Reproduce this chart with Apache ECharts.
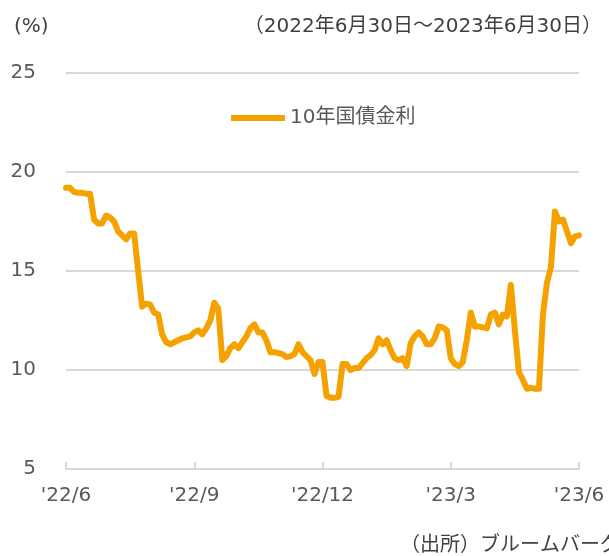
<!DOCTYPE html>
<html>
<head>
<meta charset="utf-8">
<script src="https://cdn.jsdelivr.net/npm/echarts@6/dist/echarts.min.js"></script>
<style>
html,body{margin:0;padding:0;background:#fff;}
#c{width:609px;height:556px;}
</style>
</head>
<body>
<div id="c"></div>
<script>
// Tick labels at positions 0, 32, 64, 96, 128 (Jun 2022 .. Jun 2023)
const tickLabels = ["'22/6", "'22/9", "'22/12", "'23/3", "'23/6"];
const seriesName = '10年国債金利';
const yieldValues = [
  19.2, 19.2, 19.0, 18.95, 18.95, 18.9, 18.9, 17.6, 17.4, 17.4,
  17.8, 17.7, 17.5, 17.0, 16.8, 16.6, 16.9, 16.9, 15.0, 13.2,
  13.35, 13.3, 12.9, 12.8, 11.8, 11.4, 11.3, 11.4, 11.5, 11.6,
  11.65, 11.7, 11.9, 12.0, 11.8, 12.1, 12.5, 13.4, 13.1, 10.5,
  10.7, 11.1, 11.3, 11.1, 11.4, 11.7, 12.1, 12.3, 11.9, 11.9,
  11.5, 10.9, 10.9, 10.85, 10.8, 10.65, 10.7, 10.8, 11.3, 10.9,
  10.7, 10.5, 9.8, 10.4, 10.4, 8.7, 8.6, 8.6, 8.65, 10.3,
  10.3, 10.0, 10.1, 10.1, 10.35, 10.6, 10.75, 11.0, 11.6, 11.3,
  11.5, 11.0, 10.6, 10.5, 10.6, 10.2, 11.35, 11.7, 11.9, 11.7,
  11.3, 11.3, 11.6, 12.2, 12.15, 12.0, 10.6, 10.3, 10.2, 10.4,
  11.5, 12.9, 12.2, 12.2, 12.15, 12.1, 12.8, 12.9, 12.3, 12.8,
  12.7, 14.3, 12.0, 9.9, 9.5, 9.05, 9.1, 9.05, 9.05, 12.8,
  14.4, 15.2, 18.0, 17.5, 17.6, 17.0, 16.4, 16.75, 16.8
];
const tickStep = 32;

const data = yieldValues.map((v, i) => [i, v]);
const font = '"DejaVu Sans", "Noto Sans CJK JP", sans-serif';
const textColor = '#595959';
const lineColor = '#F5A200';

const chart = echarts.init(document.getElementById('c'), null, {renderer: 'canvas'});
chart.setOption({
  animation: false,
  backgroundColor: '#fff',
  textStyle: {fontFamily: font},
  title: [
    {text: '(%)', left: 9, top: 12, textStyle: {fontSize: 20, fontWeight: 'normal', color: '#404040', fontFamily: font}},
    {text: '（2022年6月30日～2023年6月30日）', right: 2, top: 12, textStyle: {fontSize: 20, fontWeight: 'normal', color: '#404040', fontFamily: font}},
    {text: '（出所）ブルームバーグ', left: 395, top: 531, textStyle: {fontSize: 20, fontWeight: 'normal', color: '#404040', fontFamily: font}}
  ],
  legend: {
    left: 226, top: 103,
    icon: 'rect',
    itemWidth: 54, itemHeight: 6,
    itemGap: 10,
    textStyle: {fontSize: 20, color: textColor, fontFamily: font},
    data: [seriesName]
  },
  grid: {left: 66, right: 30, top: 73, bottom: 87, containLabel: false},
  xAxis: {
    type: 'value',
    min: 0, max: 128, interval: tickStep,
    axisLine: {show: true, lineStyle: {color: '#d9d9d9', width: 2}},
    axisTick: {show: true, inside: true, length: 7, lineStyle: {color: '#d9d9d9', width: 2}},
    splitLine: {show: false},
    axisLabel: {
      margin: 17, fontSize: 20, color: textColor, fontFamily: font,
      formatter: v => tickLabels[Math.round(v / tickStep)] || ''
    }
  },
  yAxis: {
    type: 'value',
    min: 5, max: 25, interval: 5,
    axisLine: {show: false},
    axisTick: {show: false},
    splitLine: {show: true, lineStyle: {color: '#d9d9d9', width: 2}},
    axisLabel: {margin: 30, fontSize: 20, color: textColor, fontFamily: font}
  },
  series: [{
    name: seriesName,
    type: 'line',
    data: data,
    symbol: 'none',
    lineStyle: {color: lineColor, width: 6, join: 'round', cap: 'round'},
    itemStyle: {color: lineColor}
  }]
});
</script>
</body>
</html>
